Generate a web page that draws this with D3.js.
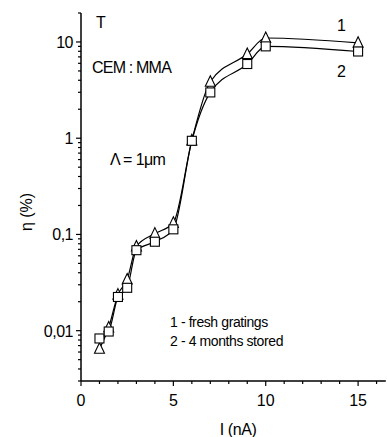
<!DOCTYPE html>
<html lang="en">
<head>
<meta charset="utf-8">
<script src="https://cdn.jsdelivr.net/npm/d3@7"></script>
<style>
  body { margin: 0; background: #fff; }
  text { font-family: Arial, "Liberation Sans", sans-serif; fill: #000; }
</style>
</head>
<body>
<svg id="chart" width="387" height="437"></svg>
<script>
// current I (nA)
var current = [1, 1.5, 2, 2.5, 3, 4, 5, 6, 7, 9, 10, 15];
// 1 - fresh gratings (triangles)
var fresh = [0.0065, 0.0108, 0.0237, 0.034, 0.075, 0.102, 0.132, 0.95, 3.86, 7.5, 11.0, 9.8];
// 2 - 4 months stored (squares)
var stored = [0.0083, 0.0098, 0.0224, 0.0279, 0.0686, 0.084, 0.113, 0.94, 2.99, 5.9, 9.0, 7.96];

var xTicks = [0, 5, 10, 15];
var yTicks = [0.01, 0.1, 1, 10];
var yTickLabels = ["0,01", "0,1", "1", "10"];

var svg = d3.select("#chart");

var x = d3.scaleLinear().domain([0, 16.5]).range([81, 385.8]);
var y = d3.scaleLog().domain([0.003, 20]).range([381, 13]);

// minor ticks
var xMinor = d3.range(0, 17).filter(function(v) { return xTicks.indexOf(v) < 0; });
var yMinor = [];
[0.001, 0.01, 0.1, 1, 10].forEach(function(dec) {
    for (var k = 2; k <= 9; k++) {
        var v = dec * k;
        if (v >= 0.003 && v <= 20) yMinor.push(v);
    }
});

// x axis
var xa = svg.append("g").attr("transform", "translate(0," + y.range()[0] + ")");
xa.append("line").attr("x1", x(0)).attr("x2", x(16.5)).attr("stroke", "#000").attr("stroke-width", 1.5);
xa.selectAll(".minor").data(xMinor).enter().append("line")
    .attr("x1", function(d) { return x(d); }).attr("x2", function(d) { return x(d); })
    .attr("y1", 0).attr("y2", 3).attr("stroke", "#000").attr("stroke-width", 1.2);
xa.selectAll(".major").data(xTicks).enter().append("line")
    .attr("x1", function(d) { return x(d); }).attr("x2", function(d) { return x(d); })
    .attr("y1", 0).attr("y2", 5).attr("stroke", "#000").attr("stroke-width", 1.2);
xa.selectAll("text").data(xTicks).enter().append("text")
    .attr("x", function(d) { return x(d); }).attr("y", 25)
    .attr("text-anchor", "middle").style("font-size", "16px")
    .text(function(d) { return d; });

// y axis
var ya = svg.append("g").attr("transform", "translate(" + x(0) + ",0)");
ya.append("line").attr("y1", y(0.003)).attr("y2", y(20)).attr("stroke", "#000").attr("stroke-width", 1.5);
ya.selectAll(".minor").data(yMinor).enter().append("line")
    .attr("y1", function(d) { return y(d); }).attr("y2", function(d) { return y(d); })
    .attr("x1", 0).attr("x2", -3).attr("stroke", "#000").attr("stroke-width", 1.2);
ya.selectAll(".major").data(yTicks).enter().append("line")
    .attr("y1", function(d) { return y(d); }).attr("y2", function(d) { return y(d); })
    .attr("x1", 0).attr("x2", -5).attr("stroke", "#000").attr("stroke-width", 1.2);
ya.selectAll("text").data(yTicks).enter().append("text")
    .attr("x", -8).attr("y", function(d) { return y(d) + 6; })
    .attr("text-anchor", "end").style("font-size", "16px").style("letter-spacing", "-0.5px")
    .text(function(d, i) { return yTickLabels[i]; });

// axis titles
svg.append("text").attr("x", 238).attr("y", 435).attr("text-anchor", "middle")
    .style("font-size", "16px").style("letter-spacing", "-0.4px").text("I (nA)");
svg.append("text").attr("transform", "translate(32,212) rotate(-90)").attr("text-anchor", "middle")
    .style("font-size", "16px").text("η (%)");

// curves
var line = d3.line()
    .x(function(d) { return x(d[0]); })
    .y(function(d) { return y(d[1]); })
    .curve(d3.curveMonotoneX);

[fresh, stored].forEach(function(s) {
    svg.append("path")
        .datum(current.map(function(c, i) { return [c, s[i]]; }))
        .attr("d", line)
        .attr("fill", "none").attr("stroke", "#000").attr("stroke-width", 1.2);
});

// markers: triangles then squares on top
svg.append("g").selectAll("path").data(current).enter().append("path")
    .attr("d", function(c, i) {
        var cx = x(c), cy = y(fresh[i]);
        return "M" + cx + "," + (cy - 6) + "L" + (cx + 5) + "," + (cy + 4.5) + "L" + (cx - 5) + "," + (cy + 4.5) + "Z";
    })
    .attr("fill", "#fff").attr("stroke", "#000").attr("stroke-width", 1.1);

svg.append("g").selectAll("rect").data(current).enter().append("rect")
    .attr("x", function(c) { return x(c) - 4.5; })
    .attr("y", function(c, i) { return y(stored[i]) - 4.5; })
    .attr("width", 9).attr("height", 9)
    .attr("fill", "#fff").attr("stroke", "#000").attr("stroke-width", 1.1);

// annotations
svg.append("text").attr("x", 96).attr("y", 28).style("font-size", "16px").text("T");
svg.append("text").attr("x", 92).attr("y", 73).style("font-size", "16px")
    .style("letter-spacing", "-0.8px").text("CEM : MMA");
svg.append("text").attr("x", 110).attr("y", 165).style("font-size", "16px")
    .style("letter-spacing", "-0.6px").text("Λ = 1μm");
svg.append("text").attr("x", 337).attr("y", 31).style("font-size", "16px").text("1");
svg.append("text").attr("x", 337).attr("y", 77).style("font-size", "16px").text("2");
svg.append("text").attr("x", 170).attr("y", 327).style("font-size", "14px")
    .style("letter-spacing", "-0.4px").text("1 - fresh gratings");
svg.append("text").attr("x", 170).attr("y", 346).style("font-size", "14px")
    .style("letter-spacing", "-0.4px").text("2 - 4 months stored");
</script>
</body>
</html>
